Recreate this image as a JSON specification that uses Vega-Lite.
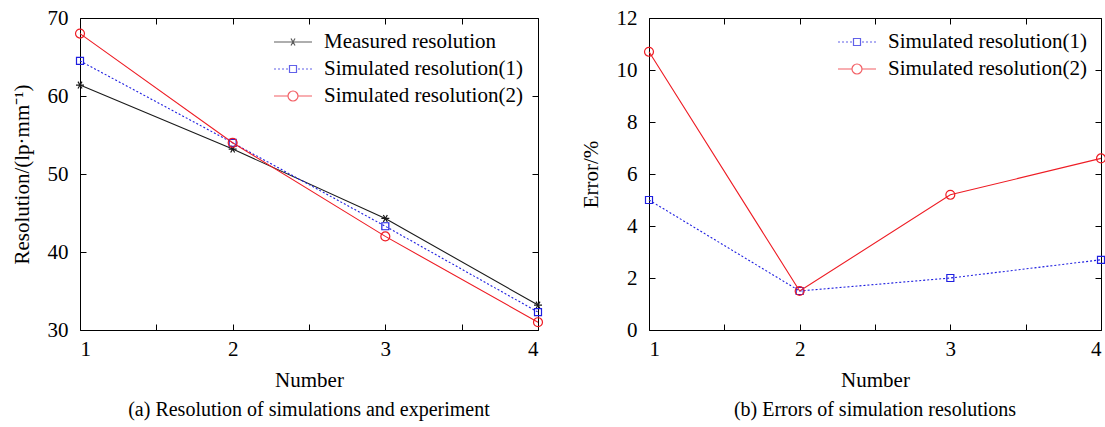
{
  "$schema": "https://vega.github.io/schema/vega-lite/v6.json",
  "background": "white",
  "padding": {"left": 10, "top": 6, "right": 0, "bottom": 0},
  "spacing": 33,
  "resolve": {"scale": {"color": "independent", "shape": "independent"}, "legend": {"color": "independent", "shape": "independent"}},
  "config": {
    "font": "Liberation Serif",
    "view": {"stroke": "black", "strokeWidth": 1},
    "axis": {"domain": false, "grid": false, "ticks": true, "tickColor": "black", "tickSize": -6, "tickWidth": 1,
      "labelFont": "Liberation Serif", "labelFontSize": 21, "labelColor": "black",
      "titleFont": "Liberation Serif", "titleFontSize": 21, "titleFontWeight": "normal", "titleColor": "black"},
    "axisX": {"labelPadding": 14},
    "axisY": {"labelPadding": 18},
    "legend": {"labelFont": "Liberation Serif", "labelFontSize": 21, "labelColor": "black", "labelLimit": 0},
    "title": {"font": "Liberation Serif", "fontSize": 20, "fontWeight": "normal", "color": "black", "orient": "bottom", "anchor": "middle", "offset": 10}
  },
  "hconcat": [
    {
      "width": 458, "height": 312,
      "title": {"text": "(a) Resolution of simulations and experiment"},
      "data": {"values": [
        {"Number": 1, "series": "Measured resolution", "value": 61.4},
        {"Number": 2, "series": "Measured resolution", "value": 53.2},
        {"Number": 3, "series": "Measured resolution", "value": 44.3},
        {"Number": 4, "series": "Measured resolution", "value": 33.2},
        {"Number": 1, "series": "Simulated resolution(1)", "value": 64.5},
        {"Number": 2, "series": "Simulated resolution(1)", "value": 54.0},
        {"Number": 3, "series": "Simulated resolution(1)", "value": 43.3},
        {"Number": 4, "series": "Simulated resolution(1)", "value": 32.3},
        {"Number": 1, "series": "Simulated resolution(2)", "value": 68.0},
        {"Number": 2, "series": "Simulated resolution(2)", "value": 54.0},
        {"Number": 3, "series": "Simulated resolution(2)", "value": 42.0},
        {"Number": 4, "series": "Simulated resolution(2)", "value": 31.0}
      ]},
      "resolve": {"axis": {"x": "independent", "y": "independent"}},
      "layer": [
        {
          "transform": [{"filter": "datum.series === 'Measured resolution'"}],
          "mark": {"type": "line", "strokeWidth": 1.1, "stroke": "#1a1a1a"},
          "encoding": {
            "x": {"field": "Number", "type": "quantitative", "scale": {"domain": [1, 4], "nice": false},
              "axis": {"orient": "bottom", "values": [1, 1.5, 2, 2.5, 3, 3.5, 4], "labelExpr": "datum.value % 1 === 0 ? format(datum.value, 'd') : ''", "title": "Number", "titlePadding": 10}},
            "y": {"field": "value", "type": "quantitative", "scale": {"domain": [30, 70], "nice": false, "zero": false},
              "axis": {"orient": "left", "values": [30, 40, 50, 60, 70], "title": "Resolution/(lp·mm⁻¹)", "titlePadding": 15}}
          }
        },
        {
          "transform": [{"filter": "datum.series === 'Simulated resolution(1)'"}],
          "mark": {"type": "line", "strokeWidth": 1.1, "stroke": "#1f1fe0", "strokeDash": [2, 2]},
          "encoding": {
            "x": {"field": "Number", "type": "quantitative", "axis": null},
            "y": {"field": "value", "type": "quantitative", "axis": null}
          }
        },
        {
          "transform": [{"filter": "datum.series === 'Simulated resolution(2)'"}],
          "mark": {"type": "line", "strokeWidth": 1.1, "stroke": "#ee1c24"},
          "encoding": {
            "x": {"field": "Number", "type": "quantitative", "axis": null},
            "y": {"field": "value", "type": "quantitative", "axis": null}
          }
        },
        {
          "transform": [{"filter": "datum.series === 'Measured resolution'"}],
          "mark": {"type": "point", "shape": "M-1,0H1M-0.5,-0.866L0.5,0.866M-0.5,0.866L0.5,-0.866", "size": 64, "filled": false, "strokeWidth": 1.2, "opacity": 1, "color": "#1a1a1a"},
          "encoding": {
            "x": {"field": "Number", "type": "quantitative", "axis": null},
            "y": {"field": "value", "type": "quantitative", "axis": null}
          }
        },
        {
          "transform": [{"filter": "datum.series === 'Simulated resolution(1)'"}],
          "mark": {"type": "point", "shape": "square", "size": 49, "filled": false, "strokeWidth": 1.2, "opacity": 1, "color": "#1f1fe0"},
          "encoding": {
            "x": {"field": "Number", "type": "quantitative", "axis": null},
            "y": {"field": "value", "type": "quantitative", "axis": null}
          }
        },
        {
          "transform": [{"filter": "datum.series === 'Simulated resolution(2)'"}],
          "mark": {"type": "point", "shape": "circle", "size": 80, "filled": false, "strokeWidth": 1.2, "opacity": 1, "color": "#ee1c24"},
          "encoding": {
            "x": {"field": "Number", "type": "quantitative", "axis": null},
            "y": {"field": "value", "type": "quantitative", "axis": null}
          }
        },
        {
          "transform": [{"filter": "datum.value > 1000"}],
          "mark": {"type": "point", "filled": false, "strokeWidth": 1.2},
          "encoding": {
            "x": {"field": "Number", "type": "quantitative",
              "axis": {"orient": "top", "values": [1, 1.5, 2, 2.5, 3, 3.5, 4], "labels": false, "title": null}},
            "y": {"field": "value", "type": "quantitative",
              "axis": {"orient": "right", "values": [30, 40, 50, 60, 70], "labels": false, "title": null}},
            "color": {"field": "series", "type": "nominal",
              "scale": {"domain": ["Measured resolution", "Simulated resolution(1)", "Simulated resolution(2)"], "range": ["#1a1a1a", "#1f1fe0", "#ee1c24"]},
              "legend": {"title": null, "orient": "none", "legendX": 211, "legendY": 13, "symbolSize": 400, "symbolStrokeWidth": 1.2, "symbolFillColor": "transparent", "rowPadding": 6, "labelOffset": 11}},
            "shape": {"field": "series", "type": "nominal",
              "scale": {"domain": ["Measured resolution", "Simulated resolution(1)", "Simulated resolution(2)"],
                "range": [
                  "M-2.8,0H1M-1.3,0H-0.5M-1.1,-0.35L-0.7,0.35M-1.1,0.35L-0.7,-0.35",
                  "M-2.8,0H-2.6M-2.4,0H-2.2M-2,0H-1.8M-1.6,0H-1.4M-1.25,-0.35H-0.55V0.35H-1.25ZM-0.4,0H-0.2M0,0H0.2M0.4,0H0.6M0.8,0H1",
                  "M-2.8,0H-1.4M-0.4,0H1M-0.4,0A0.5,0.5 0 1 1 -1.4,0A0.5,0.5 0 1 1 -0.4,0"
                ]},
              "legend": {"title": null, "orient": "none", "legendX": 211, "legendY": 13, "symbolSize": 400, "symbolStrokeWidth": 1.2, "symbolFillColor": "transparent", "rowPadding": 6, "labelOffset": 11}}
          }
        }
      ]
    },
    {
      "width": 452, "height": 312,
      "title": {"text": "(b) Errors of simulation resolutions"},
      "data": {"values": [
        {"Number": 1, "series": "Simulated resolution(1)", "value": 5.0},
        {"Number": 2, "series": "Simulated resolution(1)", "value": 1.5},
        {"Number": 3, "series": "Simulated resolution(1)", "value": 2.0},
        {"Number": 4, "series": "Simulated resolution(1)", "value": 2.7},
        {"Number": 1, "series": "Simulated resolution(2)", "value": 10.7},
        {"Number": 2, "series": "Simulated resolution(2)", "value": 1.5},
        {"Number": 3, "series": "Simulated resolution(2)", "value": 5.2},
        {"Number": 4, "series": "Simulated resolution(2)", "value": 6.6}
      ]},
      "resolve": {"axis": {"x": "independent", "y": "independent"}},
      "layer": [
        {
          "transform": [{"filter": "datum.series === 'Simulated resolution(1)'"}],
          "mark": {"type": "line", "strokeWidth": 1.1, "stroke": "#1f1fe0", "strokeDash": [2, 2]},
          "encoding": {
            "x": {"field": "Number", "type": "quantitative", "scale": {"domain": [1, 4], "nice": false},
              "axis": {"orient": "bottom", "values": [1, 1.5, 2, 2.5, 3, 3.5, 4], "labelExpr": "datum.value % 1 === 0 ? format(datum.value, 'd') : ''", "title": "Number", "titlePadding": 10}},
            "y": {"field": "value", "type": "quantitative", "scale": {"domain": [0, 12], "nice": false},
              "axis": {"orient": "left", "values": [0, 2, 4, 6, 8, 10, 12], "title": "Error/%", "titlePadding": 15}}
          }
        },
        {
          "transform": [{"filter": "datum.series === 'Simulated resolution(2)'"}],
          "mark": {"type": "line", "strokeWidth": 1.1, "stroke": "#ee1c24"},
          "encoding": {
            "x": {"field": "Number", "type": "quantitative", "axis": null},
            "y": {"field": "value", "type": "quantitative", "axis": null}
          }
        },
        {
          "transform": [{"filter": "datum.series === 'Simulated resolution(1)'"}],
          "mark": {"type": "point", "shape": "square", "size": 49, "filled": false, "strokeWidth": 1.2, "opacity": 1, "color": "#1f1fe0"},
          "encoding": {
            "x": {"field": "Number", "type": "quantitative", "axis": null},
            "y": {"field": "value", "type": "quantitative", "axis": null}
          }
        },
        {
          "transform": [{"filter": "datum.series === 'Simulated resolution(2)'"}],
          "mark": {"type": "point", "shape": "circle", "size": 80, "filled": false, "strokeWidth": 1.2, "opacity": 1, "color": "#ee1c24"},
          "encoding": {
            "x": {"field": "Number", "type": "quantitative", "axis": null},
            "y": {"field": "value", "type": "quantitative", "axis": null}
          }
        },
        {
          "transform": [{"filter": "datum.value > 1000"}],
          "mark": {"type": "point", "filled": false, "strokeWidth": 1.2},
          "encoding": {
            "x": {"field": "Number", "type": "quantitative",
              "axis": {"orient": "top", "values": [1, 1.5, 2, 2.5, 3, 3.5, 4], "labels": false, "title": null}},
            "y": {"field": "value", "type": "quantitative",
              "axis": {"orient": "right", "values": [0, 2, 4, 6, 8, 10, 12], "labels": false, "title": null}},
            "color": {"field": "series", "type": "nominal",
              "scale": {"domain": ["Simulated resolution(1)", "Simulated resolution(2)"], "range": ["#1f1fe0", "#ee1c24"]},
              "legend": {"title": null, "orient": "none", "legendX": 206, "legendY": 13, "symbolSize": 400, "symbolStrokeWidth": 1.2, "symbolFillColor": "transparent", "rowPadding": 6, "labelOffset": 11}},
            "shape": {"field": "series", "type": "nominal",
              "scale": {"domain": ["Simulated resolution(1)", "Simulated resolution(2)"],
                "range": [
                  "M-2.8,0H-2.6M-2.4,0H-2.2M-2,0H-1.8M-1.6,0H-1.4M-1.25,-0.35H-0.55V0.35H-1.25ZM-0.4,0H-0.2M0,0H0.2M0.4,0H0.6M0.8,0H1",
                  "M-2.8,0H-1.4M-0.4,0H1M-0.4,0A0.5,0.5 0 1 1 -1.4,0A0.5,0.5 0 1 1 -0.4,0"
                ]},
              "legend": {"title": null, "orient": "none", "legendX": 206, "legendY": 13, "symbolSize": 400, "symbolStrokeWidth": 1.2, "symbolFillColor": "transparent", "rowPadding": 6, "labelOffset": 11}}
          }
        }
      ]
    }
  ]
}
